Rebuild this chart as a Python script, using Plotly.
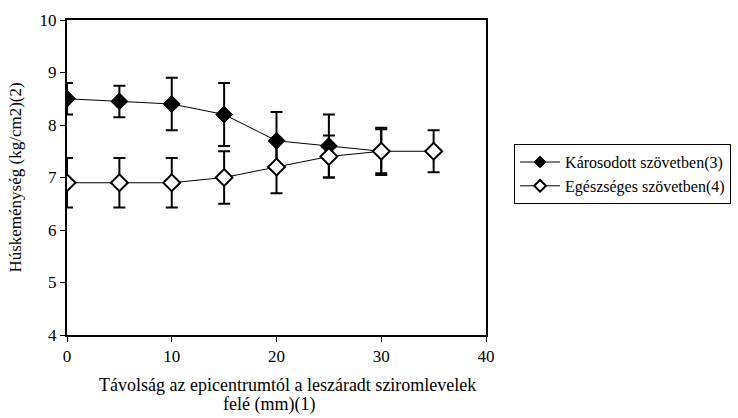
import plotly.graph_objects as go

# distance from epicentre (mm)
dist_damaged = [0, 5, 10, 15, 20, 25, 30]
dist_healthy = [0, 5, 10, 15, 20, 25, 30, 35]

# flesh firmness (kg/cm2) and standard deviations
firm_damaged = [8.5, 8.45, 8.4, 8.2, 7.7, 7.6, 7.5]
err_damaged = [0.3, 0.3, 0.5, 0.6, 0.55, 0.6, 0.45]
firm_healthy = [6.9, 6.9, 6.9, 7.0, 7.2, 7.4, 7.5, 7.5]
err_healthy = [0.47, 0.47, 0.47, 0.5, 0.5, 0.4, 0.42, 0.4]

name_damaged = "Károsodott szövetben(3)"
name_healthy = "Egészséges szövetben(4)"
x_title_lines = ["Távolság az epicentrumtól a leszáradt sziromlevelek",
                 "felé (mm)(1)"]
y_title = "Húskeménység (kg/cm2)(2)"

FONT = "Liberation Serif"

fig = go.Figure()
series = [
    (dist_damaged, firm_damaged, err_damaged, name_damaged, "black", 1),
    (dist_healthy, firm_healthy, err_healthy, name_healthy, "white", 2),
]
for xs, ys, es, name, fill, lw in series:
    fig.add_trace(go.Scatter(
        x=xs, y=ys, name=name, mode="lines+markers", showlegend=False,
        line=dict(color="black", width=1),
        marker=dict(symbol="diamond", size=13, color=fill,
                    line=dict(color="black", width=lw)),
        error_y=dict(type="data", array=es, visible=True,
                     color="black", thickness=2, width=6),
    ))
# legend entries with smaller symbols
for xs, ys, es, name, fill, lw in series:
    fig.add_trace(go.Scatter(
        x=[None], y=[None], name=name, mode="lines+markers",
        line=dict(color="black", width=1),
        marker=dict(symbol="diamond", size=9, color=fill,
                    line=dict(color="black", width=lw)),
    ))

axis_common = dict(
    showline=True, linecolor="black", linewidth=2, mirror=True,
    ticks="outside", ticklen=5, tickwidth=1, tickcolor="black",
    showgrid=False, zeroline=False, automargin=False,
    tickfont=dict(family=FONT, size=17, color="black"),
)

fig.update_layout(
    width=738, height=418,
    margin=dict(l=67, r=252, t=20, b=83, autoexpand=False),
    paper_bgcolor="white", plot_bgcolor="white",
    font=dict(family=FONT, size=17, color="black"),
    xaxis=dict(range=[0, 40], dtick=10, **axis_common),
    yaxis=dict(range=[4, 10], dtick=1, **axis_common,
               title=dict(text=y_title, font=dict(family=FONT, size=17),
                          standoff=14)),
    legend=dict(x=1.067, y=0.606, xanchor="left", yanchor="top",
                bordercolor="black", borderwidth=1, bgcolor="white",
                font=dict(family=FONT, size=16), tracegroupgap=0,
                itemwidth=40, itemsizing="trace"),
    showlegend=True,
)
# x-axis title, wrapped over two lines
for line, xpos, ypos in zip(x_title_lines, [0.527, 0.482], [-0.159, -0.222]):
    fig.add_annotation(
        text=line, xref="paper", yref="paper", x=xpos, y=ypos,
        xanchor="center", yanchor="middle", showarrow=False,
        font=dict(family=FONT, size=18, color="black"),
    )

fig.write_html("out.html")
